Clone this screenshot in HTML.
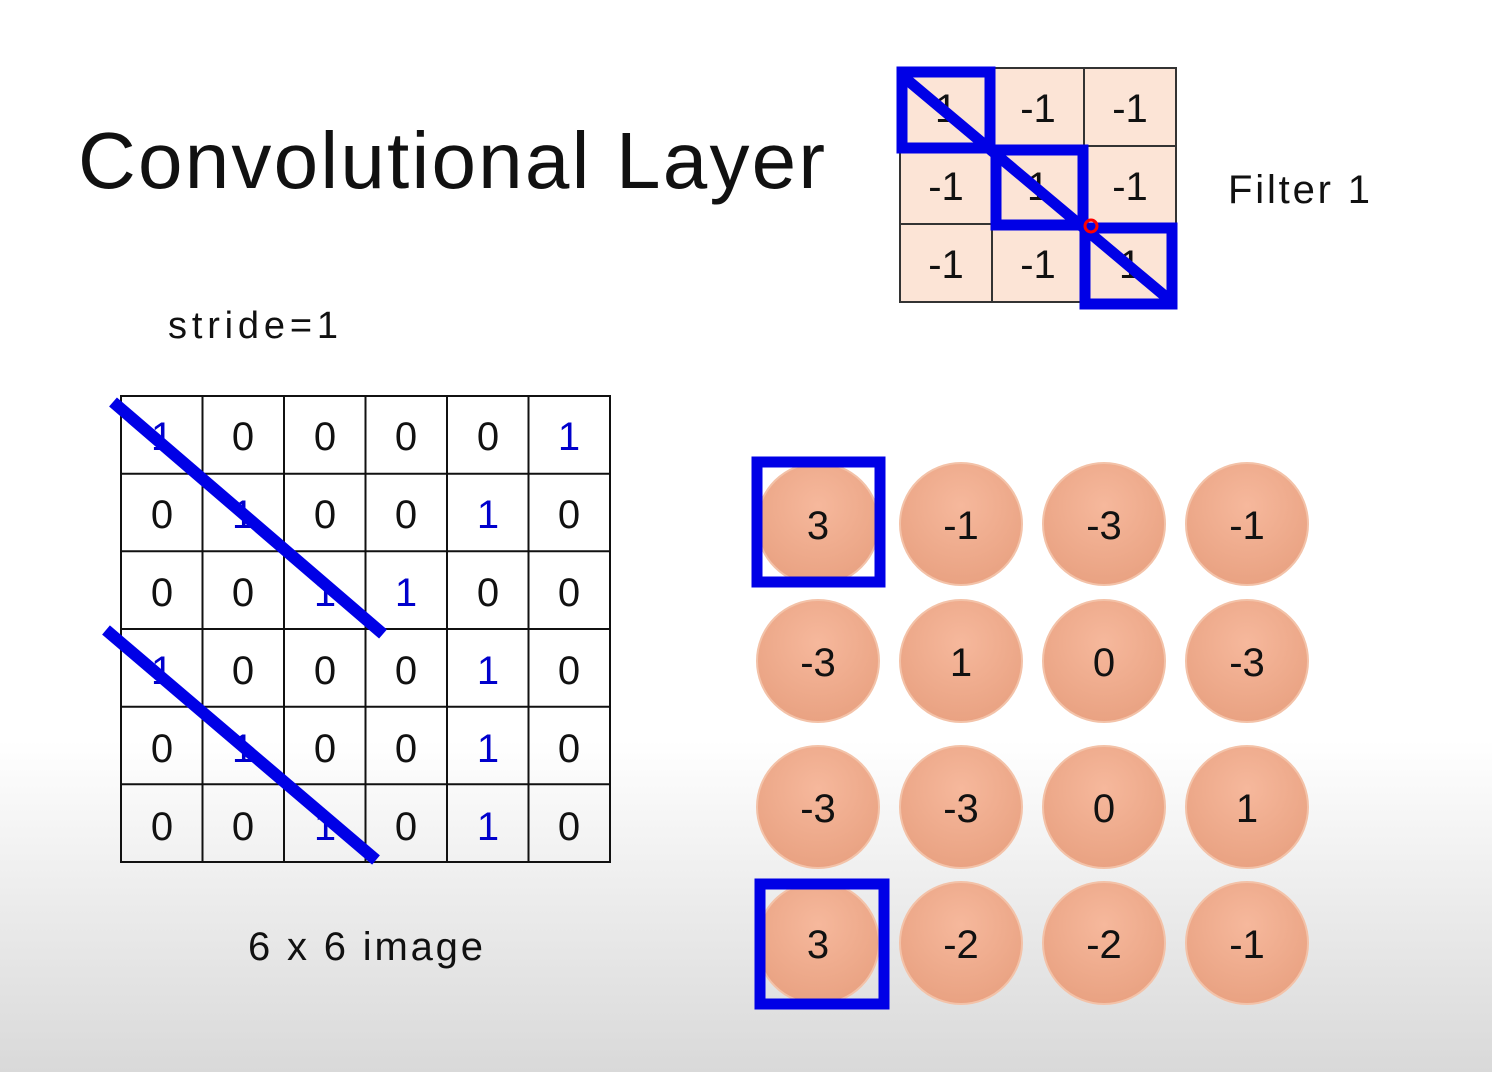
<!DOCTYPE html>
<html><head><style>
html,body{margin:0;padding:0}
body{width:1492px;height:1072px;background:linear-gradient(to bottom,#fff 0,#fff 740px,#ececec 900px,#d9d9d9 1072px);font-family:"Liberation Sans",sans-serif;overflow:hidden}
</style></head><body>
<svg width="1492" height="1072" viewBox="0 0 1492 1072" xmlns="http://www.w3.org/2000/svg" style="position:absolute;left:0;top:0">
<defs>
<radialGradient id="cg" cx="50%" cy="35%" r="65%">
<stop offset="0" stop-color="#f6b89c"/><stop offset="1" stop-color="#e9a282"/>
</radialGradient>
</defs>
<g font-family="Liberation Sans, sans-serif">
<text x="78" y="188" font-size="80" fill="#111" textLength="747" lengthAdjust="spacing">Convolutional Layer</text>
<text x="1228" y="203" font-size="40" fill="#111" textLength="142" lengthAdjust="spacing">Filter 1</text>
<text x="168" y="338" font-size="38" fill="#111" textLength="170" lengthAdjust="spacing">stride=1</text>
<text x="248" y="960" font-size="40" fill="#111" textLength="235" lengthAdjust="spacing">6 x 6 image</text>
</g>
<!-- filter -->
<g stroke="#333" stroke-width="2" fill="#fce4d6">
<rect x="900" y="68" width="92" height="78"/><rect x="992" y="68" width="92" height="78"/><rect x="1084" y="68" width="92" height="78"/>
<rect x="900" y="146" width="92" height="78"/><rect x="992" y="146" width="92" height="78"/><rect x="1084" y="146" width="92" height="78"/>
<rect x="900" y="224" width="92" height="78"/><rect x="992" y="224" width="92" height="78"/><rect x="1084" y="224" width="92" height="78"/>
</g>
<g font-size="40" fill="#111" text-anchor="middle" font-family="Liberation Sans, sans-serif">
<text x="946" y="122">1</text><text x="1038" y="122">-1</text><text x="1130" y="122">-1</text>
<text x="946" y="200">-1</text><text x="1038" y="200">1</text><text x="1130" y="200">-1</text>
<text x="946" y="278">-1</text><text x="1038" y="278">-1</text><text x="1130" y="278">1</text>
</g>
<g stroke="#0000e6" stroke-width="11" fill="none">
<rect x="902" y="72" width="88" height="76"/>
<rect x="996" y="150" width="87" height="75"/>
<rect x="1085" y="228" width="87" height="76"/>
<line x1="905" y1="78" x2="1172" y2="302"/>
</g>
<circle cx="1091" cy="226" r="6" fill="none" stroke="#f00" stroke-width="3"/>
<!-- image grid -->
<g stroke="#111" stroke-width="2" fill="none">
<rect x="121" y="396" width="489" height="466"/>
<line x1="202.5" y1="396" x2="202.5" y2="862"/><line x1="284" y1="396" x2="284" y2="862"/><line x1="365.5" y1="396" x2="365.5" y2="862"/><line x1="447" y1="396" x2="447" y2="862"/><line x1="528.5" y1="396" x2="528.5" y2="862"/>
<line x1="121" y1="473.7" x2="610" y2="473.7"/><line x1="121" y1="551.3" x2="610" y2="551.3"/><line x1="121" y1="629" x2="610" y2="629"/><line x1="121" y1="706.7" x2="610" y2="706.7"/><line x1="121" y1="784.3" x2="610" y2="784.3"/>
</g>
<g font-size="40" text-anchor="middle" font-family="Liberation Sans, sans-serif" fill="#111">
<text x="162" y="450" fill="#0000cc">1</text><text x="243" y="450">0</text><text x="325" y="450">0</text><text x="406" y="450">0</text><text x="488" y="450">0</text><text x="569" y="450" fill="#0000cc">1</text>
<text x="162" y="528">0</text><text x="243" y="528" fill="#0000cc">1</text><text x="325" y="528">0</text><text x="406" y="528">0</text><text x="488" y="528" fill="#0000cc">1</text><text x="569" y="528">0</text>
<text x="162" y="606">0</text><text x="243" y="606">0</text><text x="325" y="606" fill="#0000cc">1</text><text x="406" y="606" fill="#0000cc">1</text><text x="488" y="606">0</text><text x="569" y="606">0</text>
<text x="162" y="684" fill="#0000cc">1</text><text x="243" y="684">0</text><text x="325" y="684">0</text><text x="406" y="684">0</text><text x="488" y="684" fill="#0000cc">1</text><text x="569" y="684">0</text>
<text x="162" y="762">0</text><text x="243" y="762" fill="#0000cc">1</text><text x="325" y="762">0</text><text x="406" y="762">0</text><text x="488" y="762" fill="#0000cc">1</text><text x="569" y="762">0</text>
<text x="162" y="840">0</text><text x="243" y="840">0</text><text x="325" y="840" fill="#0000cc">1</text><text x="406" y="840">0</text><text x="488" y="840" fill="#0000cc">1</text><text x="569" y="840">0</text>
</g>
<g stroke="#0000e6" stroke-width="12">
<line x1="113" y1="402" x2="383" y2="634"/>
<line x1="106" y1="630" x2="376" y2="860"/>
</g>
<!-- circles -->
<g fill="url(#cg)" stroke="#f3c2a8" stroke-width="2">
<circle cx="818" cy="524" r="61"/><circle cx="961" cy="524" r="61"/><circle cx="1104" cy="524" r="61"/><circle cx="1247" cy="524" r="61"/>
<circle cx="818" cy="661" r="61"/><circle cx="961" cy="661" r="61"/><circle cx="1104" cy="661" r="61"/><circle cx="1247" cy="661" r="61"/>
<circle cx="818" cy="807" r="61"/><circle cx="961" cy="807" r="61"/><circle cx="1104" cy="807" r="61"/><circle cx="1247" cy="807" r="61"/>
<circle cx="818" cy="943" r="61"/><circle cx="961" cy="943" r="61"/><circle cx="1104" cy="943" r="61"/><circle cx="1247" cy="943" r="61"/>
</g>
<g font-size="40" text-anchor="middle" fill="#111" font-family="Liberation Sans, sans-serif">
<text x="818" y="539">3</text><text x="961" y="539">-1</text><text x="1104" y="539">-3</text><text x="1247" y="539">-1</text>
<text x="818" y="676">-3</text><text x="961" y="676">1</text><text x="1104" y="676">0</text><text x="1247" y="676">-3</text>
<text x="818" y="822">-3</text><text x="961" y="822">-3</text><text x="1104" y="822">0</text><text x="1247" y="822">1</text>
<text x="818" y="958">3</text><text x="961" y="958">-2</text><text x="1104" y="958">-2</text><text x="1247" y="958">-1</text>
</g>
<g stroke="#0000e6" stroke-width="11" fill="none">
<rect x="757" y="462" width="123" height="120"/>
<rect x="760" y="884" width="124" height="120"/>
</g>
</svg>
</body></html>
